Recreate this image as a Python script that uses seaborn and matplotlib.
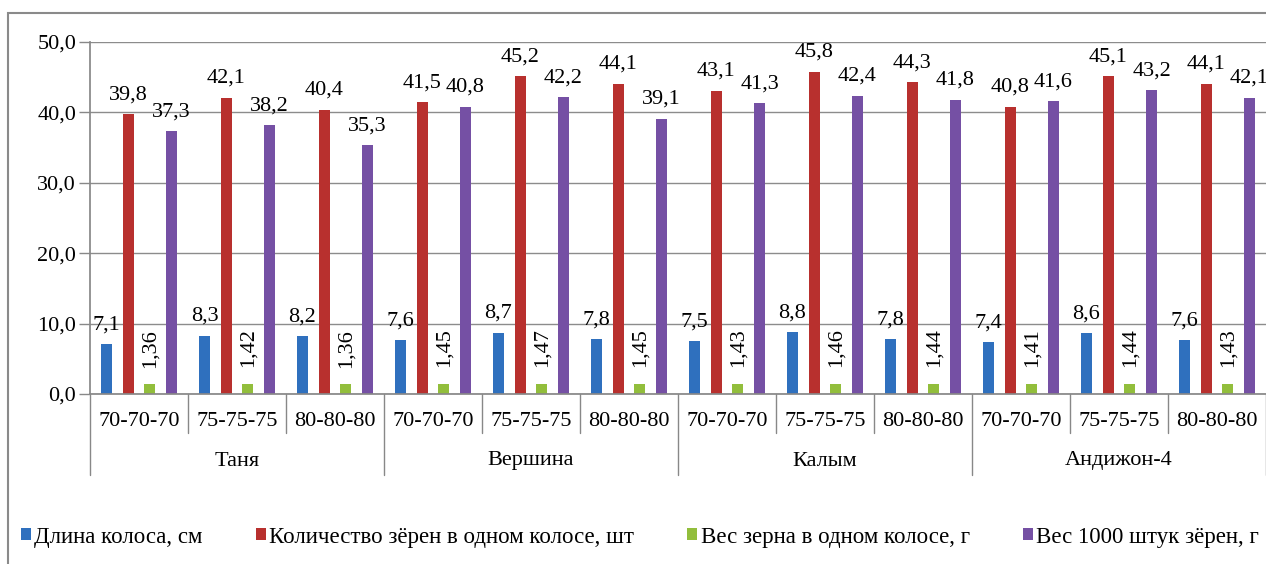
import matplotlib
matplotlib.use("Agg")
import matplotlib.pyplot as plt
import seaborn as sns
import pandas as pd
from matplotlib.patches import Rectangle

varieties = ["Таня", "Вершина", "Калым", "Андижон-4"]
treatments = ["70-70-70", "75-75-75", "80-80-80"]
series_names = ["Длина колоса, см", "Количество зёрен в одном колосе, шт",
                "Вес зерна в одном колосе, г", "Вес 1000 штук зёрен, г"]
length = [7.1, 8.3, 8.2, 7.6, 8.7, 7.8, 7.5, 8.8, 7.8, 7.4, 8.6, 7.6]
grains = [39.8, 42.1, 40.4, 41.5, 45.2, 44.1, 43.1, 45.8, 44.3, 40.8, 45.1, 44.1]
grain_weight = [1.36, 1.42, 1.36, 1.45, 1.47, 1.45, 1.43, 1.46, 1.44, 1.41, 1.44, 1.43]
weight1000 = [37.3, 38.2, 35.3, 40.8, 42.2, 39.1, 41.3, 42.4, 41.8, 41.6, 43.2, 42.1]
y_ticks = [0, 10, 20, 30, 40, 50]

colors = ["#2F70BE", "#B8302E", "#92BE3C", "#7550A4"]

cats = [f"{v}|{t}" for v in varieties for t in treatments]
series_vals = [length, grains, grain_weight, weight1000]
rows = []
for s, vals in zip(series_names, series_vals):
    for c, v in zip(cats, vals):
        rows.append({"cat": c, "series": s, "value": v})
df = pd.DataFrame(rows)

sns.set_theme(style="white")
FONT = ["Liberation Serif", "DejaVu Serif"]
plt.rcParams["font.family"] = FONT
plt.rcParams["text.color"] = "black"
plt.rcParams["ytick.labelcolor"] = "black"

W, H = 1266, 564
fig = plt.figure(figsize=(W / 100, H / 100), dpi=100)
x0, x1, ytop, ybot = 90, 1266, 42, 394
ax = fig.add_axes([x0 / W, 1 - ybot / H, (x1 - x0) / W, (ybot - ytop) / H])

# outer frame
fig.patches.append(Rectangle((8 / W, -0.2), 1.2, 1 - 13 / H + 0.2, transform=fig.transFigure,
                             fill=False, edgecolor="#8a8a8a", linewidth=1.5))

sns.barplot(data=df, x="cat", y="value", hue="series", order=cats, hue_order=series_names,
            palette=colors, width=0.886, gap=0.49, ax=ax, legend=False, saturation=1,
            errorbar=None, edgecolor="none")

ax.set_xlim(-0.5, len(cats) - 0.5)
ax.set_ylim(0, 50)
ax.set_yticks(y_ticks)
ax.set_yticklabels([f"{t:.1f}".replace(".", ",") for t in y_ticks], fontsize=16, family=FONT)
ax.tick_params(axis="y", length=8, width=1, color="#888888", pad=2, left=True)
ax.set_xticks([])
ax.set_xlabel("")
ax.set_ylabel("")
ax.yaxis.grid(True, color="#8c8c8c", linewidth=1)
ax.set_axisbelow(True)
for side in ["top", "right"]:
    ax.spines[side].set_visible(False)
ax.spines["left"].set_color("#888888")
ax.spines["bottom"].set_color("#888888")

# data labels
for i, cont in enumerate(ax.containers):
    vals = series_vals[i]
    if i == 2:
        labels = [f"{v:.2f}".replace(".", ",") for v in vals]
        ax.bar_label(cont, labels=labels, padding=12, rotation=90, fontsize=16, family=FONT)
    else:
        labels = [f"{v:.1f}".replace(".", ",") for v in vals]
        ax.bar_label(cont, labels=labels, padding=7, fontsize=16, family=FONT)

# two-level category axis
trans = ax.get_xaxis_transform()
def py(p):  # pixel y -> axes fraction
    return (ybot - p) / (ybot - ytop)

for i, c in enumerate(cats):
    t = c.split("|")[1]
    ax.text(i, py(421), t, transform=trans, ha="center", va="center", fontsize=16, family=FONT)
for k, v in enumerate(varieties):
    ax.text(k * 3 + 1, py(461), v, transform=trans, ha="center", va="center", fontsize=16, family=FONT)
for b in range(len(cats) + 1):
    xb = b - 0.5
    low = 475 if b % 3 == 0 else 433
    ax.plot([xb, xb], [0, py(low)], transform=trans, color="#888888", linewidth=1, clip_on=False)

handles = [Rectangle((0, 0), 1, 1, facecolor=c, edgecolor="none") for c in colors]
fig.legend(handles, series_names, loc="center", bbox_to_anchor=(0.5055, 1 - 537 / H), ncol=4,
           frameon=False, prop={"family": FONT, "size": 16.5}, handlelength=0.45, handleheight=0.45,
           handletextpad=0.15, columnspacing=2.3, borderpad=0.2)

fig.savefig("out.png", dpi=100)
